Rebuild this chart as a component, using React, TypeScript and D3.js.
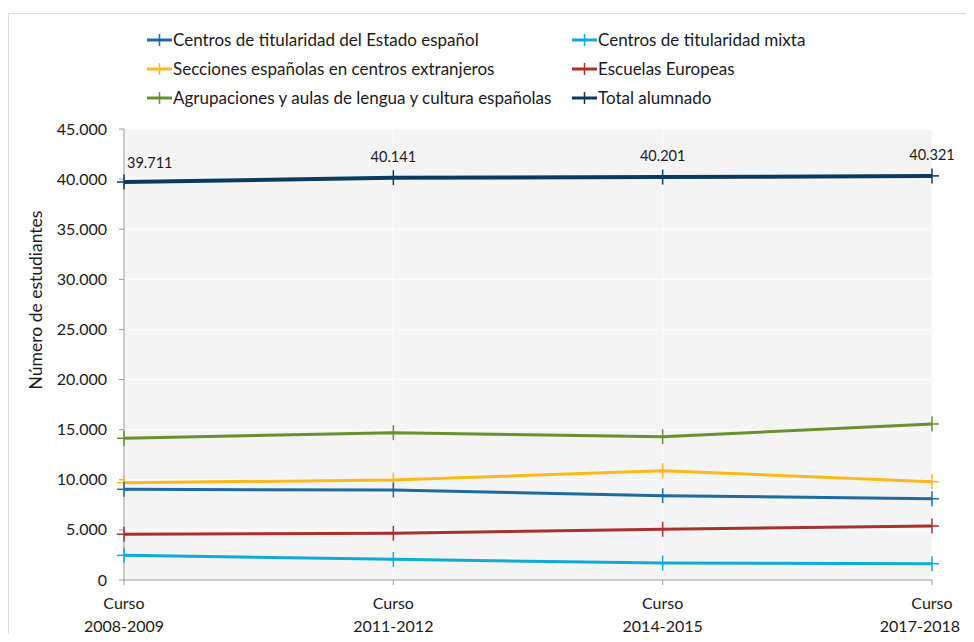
import React from "react";
import * as d3 from "d3";

const categories = ["Curso\n2008-2009", "Curso\n2011-2012", "Curso\n2014-2015", "Curso\n2017-2018"];
const seriesNames = [
  "Centros de titularidad del Estado español",
  "Centros de titularidad mixta",
  "Secciones españolas en centros extranjeros",
  "Escuelas Europeas",
  "Agrupaciones y aulas de lengua y cultura españolas",
  "Total alumnado",
];
const estado = [9050, 8980, 8410, 8110];
const mixta = [2460, 2060, 1700, 1630];
const secciones = [9710, 9980, 10910, 9810];
const europeas = [4560, 4660, 5060, 5390];
const agrupaciones = [14140, 14700, 14300, 15570];
const total = [39711, 40141, 40201, 40321];
const colors = ["#1f6aa0", "#10aad6", "#fbb91a", "#a8302f", "#6a9030", "#0a3b5e"];
const yTicks = [0, 5000, 10000, 15000, 20000, 25000, 30000, 35000, 40000, 45000];

const seriesValues = [estado, mixta, secciones, europeas, agrupaciones, total];

const fmt = (v: number) => {
  const s = String(v);
  return s.length > 3 ? s.slice(0, s.length - 3) + "." + s.slice(-3) : s;
};

export default function App() {
  const W = 974, H = 642;
  const left = 124, right = 932, top = 129, bottom = 580;
  const x = d3.scaleLinear().domain([0, categories.length - 1]).range([left, right]);
  const y = d3.scaleLinear().domain([0, 45000]).range([bottom, top]);
  const line = d3.line<number>().x((_, i) => x(i)).y((d) => y(d));
  const font = "Lato, 'Open Sans', sans-serif";

  const legendCols = [147, 572];
  const legendRows = [40, 69, 98];
  const order = [4, 2, 0, 3, 1, 5];
  const last = categories.length - 1;

  return (
    <div style={{ margin: "-8px" }}>
      <svg width={W} height={H} style={{ display: "block", fontFamily: font }}>
        <rect x={0} y={0} width={W} height={H} fill="#fff" />
        <line x1={8.5} y1={13.5} x2={974} y2={13.5} stroke="#d5dbe6" strokeWidth={1} />
        <line x1={8.5} y1={13.5} x2={8.5} y2={642} stroke="#d5dbe6" strokeWidth={1} />
        <rect x={left} y={top} width={right - left} height={bottom - top} fill="#f4f4f4" />
        {yTicks.map((t) => (
          <line key={"g" + t} x1={left} x2={right} y1={y(t)} y2={y(t)} stroke="#fcfcfc" strokeWidth={1.5} />
        ))}
        {categories.map((c, i) => (
          <line key={"v" + i} x1={x(i)} x2={x(i)} y1={top} y2={bottom} stroke="#fcfcfc" strokeWidth={1.5} />
        ))}
        <line x1={left} x2={left} y1={top} y2={bottom} stroke="#9a9a9a" strokeWidth={1} />
        <line x1={left} x2={right} y1={bottom} y2={bottom} stroke="#9a9a9a" strokeWidth={1} />
        {yTicks.map((t) => (
          <g key={"t" + t}>
            <line x1={left - 5} x2={left} y1={y(t)} y2={y(t)} stroke="#9a9a9a" />
            <text x={107} y={y(t)} dy="0.35em" textAnchor="end" fontSize={16} fill="#1a1a1a">
              {fmt(t)}
            </text>
          </g>
        ))}
        {categories.map((c, i) => (
          <g key={"c" + i}>
            <line x1={x(i)} x2={x(i)} y1={bottom} y2={bottom + 5} stroke="#9a9a9a" />
            {c.split("\n").map((s, j) => (
              <text
                key={j}
                x={i === last && j === 1 ? 960 : x(i)}
                y={609 + j * 23}
                textAnchor={i === last && j === 1 ? "end" : "middle"}
                fontSize={16}
                fill="#1a1a1a"
              >
                {s}
              </text>
            ))}
          </g>
        ))}
        <text
          transform="translate(42,300) rotate(-90)"
          textAnchor="middle"
          fontSize={17.5}
          fill="#1a1a1a"
        >
          Número de estudiantes
        </text>
        {order.map((si) => (
          <g key={"s" + si}>
            <path d={line(seriesValues[si]) || ""} fill="none" stroke={colors[si]} strokeWidth={si === 5 ? 4 : 3} strokeLinejoin="round" />
            {seriesValues[si].map((v, i) => (
              <g key={i} stroke={colors[si]} strokeWidth={1.5}>
                <line x1={x(i) - 7} x2={x(i) + 7} y1={y(v)} y2={y(v)} />
                <line x1={x(i)} x2={x(i)} y1={y(v) - 7.5} y2={y(v) + 7.5} />
              </g>
            ))}
          </g>
        ))}
        {total.map((v, i) => (
          <text
            key={"l" + i}
            x={i === 0 ? x(i) + 3 : x(i)}
            y={i === 0 ? y(v) - 14 : y(v) - 16}
            textAnchor={i === 0 ? "start" : "middle"}
            fontSize={14.5}
            fill="#1a1a1a"
          >
            {fmt(v)}
          </text>
        ))}
        {seriesNames.map((n, i) => {
          const lx = legendCols[i % 2];
          const ly = legendRows[Math.floor(i / 2)];
          return (
            <g key={"lg" + i}>
              <line x1={lx} x2={lx + 25} y1={ly} y2={ly} stroke={colors[i]} strokeWidth={3} />
              <line x1={lx + 12.5} x2={lx + 12.5} y1={ly - 6} y2={ly + 6} stroke={colors[i]} strokeWidth={1.5} />
              <text x={lx + 26} y={ly} dy="0.35em" fontSize={17} fill="#1a1a1a">
                {n}
              </text>
            </g>
          );
        })}
      </svg>
    </div>
  );
}
